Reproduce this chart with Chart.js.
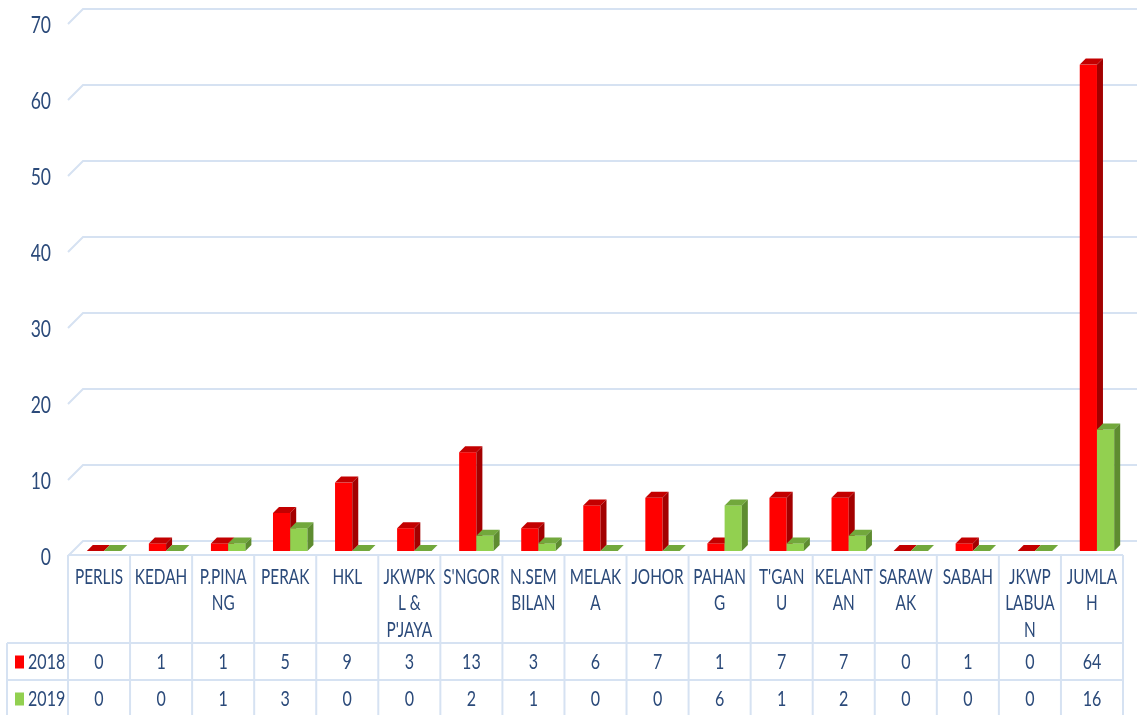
<!DOCTYPE html>
<html>
<head>
<meta charset="utf-8">
<script src="https://cdn.jsdelivr.net/npm/chart.js@4/dist/chart.umd.min.js"></script>
<style>
  html, body { margin: 0; padding: 0; background: #fff; overflow: hidden; }
  #wrap { width: 1137px; height: 715px; }
</style>
</head>
<body>
<div id="wrap"><canvas id="c" width="1137" height="715"></canvas></div>
<script>
// Category labels, already broken into the lines shown in the table header
const categories = [
  ["PERLIS"], ["KEDAH"], ["P.PINA", "NG"], ["PERAK"], ["HKL"],
  ["JKWPK", "L &", "P'JAYA"], ["S'NGOR"], ["N.SEM", "BILAN"], ["MELAK", "A"],
  ["JOHOR"], ["PAHAN", "G"], ["T'GAN", "U"], ["KELANT", "AN"], ["SARAW", "AK"],
  ["SABAH"], ["JKWP", "LABUA", "N"], ["JUMLA", "H"]
];
const values2018 = [0, 1, 1, 5, 9, 3, 13, 3, 6, 7, 1, 7, 7, 0, 1, 0, 64];
const values2019 = [0, 0, 1, 3, 0, 0, 2, 1, 0, 0, 6, 1, 2, 0, 0, 0, 16];
const seriesNames = ["2018", "2019"];
const yTicks = [0, 10, 20, 30, 40, 50, 60, 70];

// Styling
const INK = '#2b4a7a';
const RULE = '#d6e2f2';
const FONT = 'Lato, "Open Sans", sans-serif';
const SQUISH = 0.73;          // narrow text like a condensed face
const DEPTH = 6;              // 3D depth of each column
const WALL_DX = 15, WALL_FRONT = 5, WALL_BACK = -10;
const BAR_SHIFT = 5;
const HEADER_H = 88, ROW_H = 37, LEGEND_LEFT = 7;
const faces = [
  { front: '#ff0000', top: '#c30000', side: '#a30000' },
  { front: '#92d050', top: '#72a83c', side: '#5e8c30' }
];

function squishText(ctx, text, x, y, align, size) {
  ctx.save();
  ctx.translate(x, y);
  ctx.scale(SQUISH, 1);
  ctx.font = size + 'px ' + FONT;
  ctx.textAlign = align;
  ctx.textBaseline = 'middle';
  ctx.fillStyle = INK;
  ctx.fillText(text, 0, 0);
  ctx.restore();
}

function poly(ctx, pts, color) {
  ctx.beginPath();
  ctx.moveTo(pts[0][0], pts[0][1]);
  for (let i = 1; i < pts.length; i++) ctx.lineTo(pts[i][0], pts[i][1]);
  ctx.closePath();
  ctx.fillStyle = color;
  ctx.fill();
}

// Back wall / floor grid with the perspective step, plus value axis labels
const wallPlugin = {
  id: 'wall',
  beforeDatasetsDraw(chart) {
    const ctx = chart.ctx, ys = chart.scales.y, area = chart.chartArea;
    ctx.save();
    ctx.strokeStyle = RULE;
    ctx.lineWidth = 2;
    yTicks.forEach(v => {
      const y = ys.getPixelForValue(v);
      ctx.beginPath();
      ctx.moveTo(area.left, y + WALL_FRONT);
      ctx.lineTo(area.left + WALL_DX, y + WALL_BACK);
      ctx.lineTo(chart.width, y + WALL_BACK);
      ctx.stroke();
      squishText(ctx, String(v), area.left - 17, y + 6, 'right', 24);
    });
    ctx.restore();
  }
};

// Columns drawn as boxes: front, top and right side faces
const boxPlugin = {
  id: 'boxes',
  afterDatasetsDraw(chart) {
    const ctx = chart.ctx;
    ctx.save();
    chart.data.datasets.forEach((ds, di) => {
      const f = faces[di];
      chart.getDatasetMeta(di).data.forEach(el => {
        const p = el.getProps(['x', 'y', 'base', 'width'], true);
        const l = p.x - p.width / 2 + BAR_SHIFT, r = p.x + p.width / 2 + BAR_SHIFT;
        const t = p.y, b = p.base;
        ctx.fillStyle = f.front;
        ctx.fillRect(l, t, r - l, b - t);
        poly(ctx, [[l, t], [r, t], [r + DEPTH, t - DEPTH], [l + DEPTH, t - DEPTH]], f.top);
        poly(ctx, [[r, t], [r + DEPTH, t - DEPTH], [r + DEPTH, b - DEPTH], [r, b]], f.side);
      });
    });
    ctx.restore();
  }
};

// Data table under the plot
const tablePlugin = {
  id: 'table',
  afterDraw(chart) {
    const ctx = chart.ctx, ys = chart.scales.y, xs = chart.scales.x, area = chart.chartArea;
    const n = categories.length;
    const colW = (area.right - area.left) / n;
    const top = ys.getPixelForValue(0) + WALL_FRONT - 1;
    const headBottom = top + HEADER_H;
    const rows = [headBottom, headBottom + ROW_H, headBottom + 2 * ROW_H];
    const bottom = chart.height + 2;
    ctx.save();
    ctx.strokeStyle = RULE;
    ctx.lineWidth = 2;
    ctx.beginPath();
    ctx.moveTo(area.left, top); ctx.lineTo(area.right, top);
    ctx.moveTo(LEGEND_LEFT, rows[0]); ctx.lineTo(area.right, rows[0]);
    ctx.moveTo(LEGEND_LEFT, rows[1]); ctx.lineTo(area.right, rows[1]);
    for (let i = 0; i <= n; i++) {
      const x = area.left + i * colW;
      ctx.moveTo(x, top); ctx.lineTo(x, bottom);
    }
    ctx.moveTo(LEGEND_LEFT, rows[0]); ctx.lineTo(LEGEND_LEFT, bottom);
    ctx.stroke();

    categories.forEach((lines, i) => {
      const cx = xs.getPixelForValue(i);
      lines.forEach((s, k) => squishText(ctx, s, cx, top + 22 + k * 26.5, 'center', 21));
    });

    const series = [values2018, values2019];
    series.forEach((vals, si) => {
      const cy = rows[si] + ROW_H / 2 + 0.5;
      vals.forEach((v, i) => squishText(ctx, String(v), xs.getPixelForValue(i), cy, 'center', 22));
      ctx.fillStyle = faces[si].front;
      ctx.fillRect(LEGEND_LEFT + 8, cy - 6.5, 9, 13);
      squishText(ctx, seriesNames[si], LEGEND_LEFT + 21, cy, 'left', 22);
    });
    ctx.restore();
  }
};

new Chart(document.getElementById('c'), {
  type: 'bar',
  data: {
    labels: categories,
    datasets: [
      { label: seriesNames[0], data: values2018, backgroundColor: 'rgba(0,0,0,0)' },
      { label: seriesNames[1], data: values2019, backgroundColor: 'rgba(0,0,0,0)' }
    ]
  },
  options: {
    responsive: false,
    animation: false,
    layout: { padding: { left: 68, right: 14, top: 19, bottom: 164 } },
    datasets: { bar: { categoryPercentage: 0.555, barPercentage: 1.0 } },
    plugins: { legend: { display: false }, tooltip: { enabled: false } },
    scales: {
      x: { display: false, offset: true },
      y: { display: false, min: 0, max: 70 }
    }
  },
  plugins: [wallPlugin, boxPlugin, tablePlugin]
});
</script>
</body>
</html>
